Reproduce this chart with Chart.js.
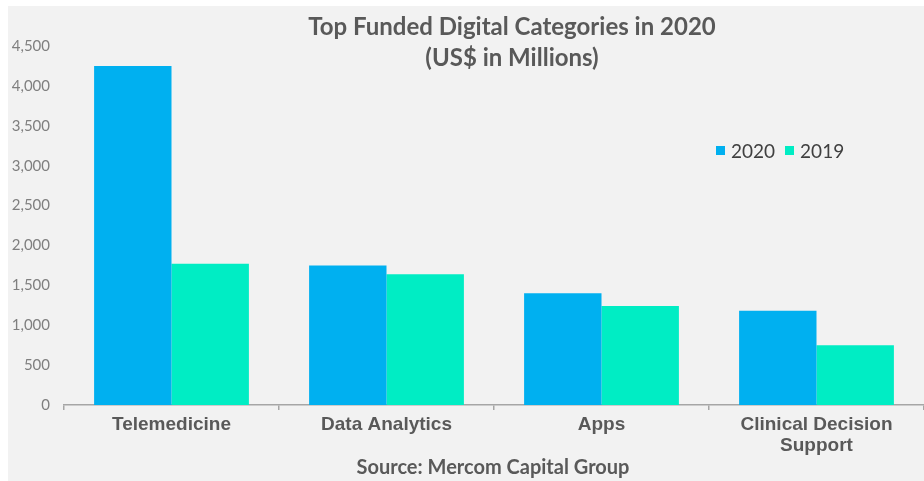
<!DOCTYPE html>
<html>
<head>
<meta charset="utf-8">
<script src="https://cdn.jsdelivr.net/npm/chart.js@4.4.1/dist/chart.umd.min.js"></script>
<style>
  body { margin: 0; background: #ffffff; }
  #panel { position: absolute; left: 8px; top: 6px; width: 916px; height: 475px; background: #f2f2f2; overflow: hidden; }
  #fundingChart { position: absolute; left: 0; top: 0; }
  .title { position: absolute; left: 504px; top: 4px; transform: translateX(-50%); white-space: nowrap;
           font: bold 24px/31px Lato, sans-serif; color: #595959; text-align: center; }
  #legend { position: absolute; left: 708px; top: 133px; display: flex; align-items: center;
            font: 19px Lato, sans-serif; color: #404040; }
  #legend span.box { display: inline-block; width: 9px; height: 9px; margin-right: 6px; }
  #legend span.item { display: flex; align-items: center; margin-right: 10px; }
  .source { position: absolute; left: 485px; top: 448px; transform: translateX(-50%); white-space: nowrap;
            font: bold 20px Lato, sans-serif; color: #595959; }
</style>
</head>
<body>
<div id="panel">
  <canvas id="fundingChart" width="916" height="475"></canvas>
  <div class="title">Top Funded Digital Categories in 2020<br>(US$ in Millions)</div>
  <div id="legend"></div>
  <div class="source">Source: Mercom Capital Group</div>
</div>
<script>
// funding by category, US$ millions
const categories = ['Telemedicine', 'Data Analytics', 'Apps', ['Clinical Decision', 'Support']];
const funding2020 = [4250, 1750, 1400, 1180];
const funding2019 = [1770, 1640, 1240, 750];
const yTicks = [0, 500, 1000, 1500, 2000, 2500, 3000, 3500, 4000, 4500];

const ctxFunding = document.getElementById('fundingChart');

const dataFunding = {
    labels: categories,
    datasets: [{
        label: '2020',
        backgroundColor: '#00b0f0',
        data: funding2020,
    }, {
        label: '2019',
        backgroundColor: '#00edc4',
        data: funding2019,
    }]
};

const configFunding = {
    type: 'bar',
    data: dataFunding,
    options: {
        responsive: false,
        animation: false,
        categoryPercentage: 0.72,
        barPercentage: 1,
        layout: {
            padding: { top: 40, right: 0, bottom: 0, left: 0 }
        },
        plugins: {
            legend: { display: false },
            tooltip: { enabled: false }
        },
        scales: {
            x: {
                afterFit: (scale) => { scale.height = 76; },
                grid: {
                    display: true,
                    drawOnChartArea: false,
                    drawTicks: true,
                    tickLength: 5,
                    color: '#a6a6a6',
                    lineWidth: 1.5
                },
                border: { display: true, color: '#a6a6a6', width: 1.5 },
                ticks: {
                    padding: 4,
                    color: '#595959',
                    font: { family: 'Liberation Sans', size: 19, weight: 'bold', lineHeight: 1.1 }
                }
            },
            y: {
                min: yTicks[0],
                max: yTicks[yTicks.length - 1],
                afterFit: (scale) => { scale.width = 56; },
                afterBuildTicks: (scale) => { scale.ticks = yTicks.map(v => ({ value: v })); },
                grid: { display: false, drawTicks: false },
                border: { display: false },
                ticks: {
                    padding: 14,
                    color: '#7f7f7f',
                    font: { family: 'Lato', size: 15 }
                }
            }
        }
    }
};

const barChartFunding = new Chart(ctxFunding, configFunding);

// legend built from the datasets
const legendEl = document.getElementById('legend');
dataFunding.datasets.forEach(ds => {
    const item = document.createElement('span');
    item.className = 'item';
    item.innerHTML = '<span class="box" style="background:' + ds.backgroundColor + '"></span>' + ds.label;
    legendEl.appendChild(item);
});
</script>
</body>
</html>
